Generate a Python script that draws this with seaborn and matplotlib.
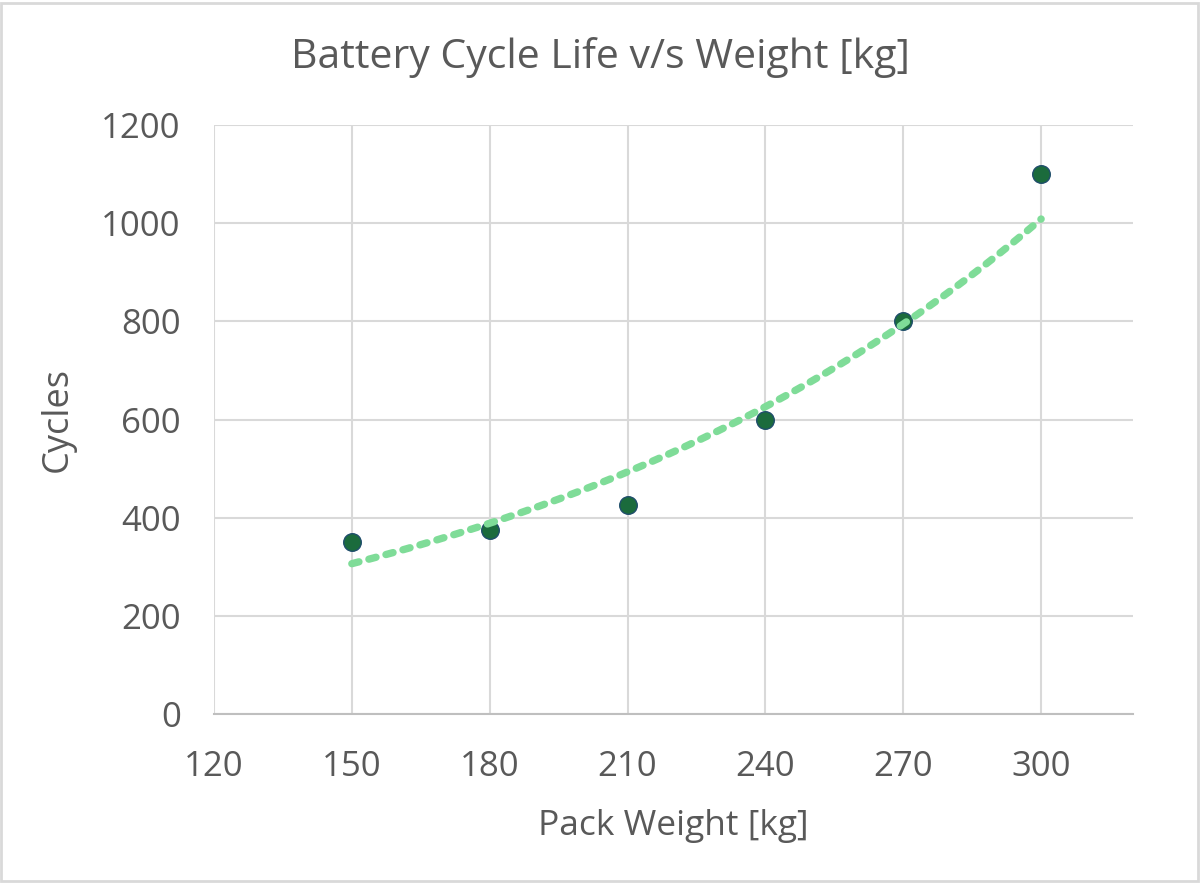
import numpy as np
import pandas as pd
import matplotlib
matplotlib.use("Agg")
import matplotlib.pyplot as plt
import seaborn as sns

# Data
pack_weight = [150, 180, 210, 240, 270, 300]
cycles = [350, 375, 425, 600, 800, 1100]
x_ticks = [120, 150, 180, 210, 240, 270, 300]
y_ticks = [0, 200, 400, 600, 800, 1000, 1200]

sns.set_theme(style="white")
plt.rcParams['font.family'] = ['Open Sans', 'DejaVu Sans']

TEXT = "#595959"
GRID = "#d9d9d9"

df = pd.DataFrame({"w": pack_weight, "c": cycles})

# Exponential trendline (least squares on log values, as Excel does)
b, a = np.polyfit(df["w"], np.log(df["c"]), 1)
xs = np.linspace(min(pack_weight), max(pack_weight), 200)
trend = pd.DataFrame({"w": xs, "c": np.exp(a + b * xs)})

fig = plt.figure(figsize=(12, 8.83), dpi=100)
ax = fig.add_axes([0.1783, 0.1914, 0.9442 - 0.1783, 0.8584 - 0.1914])

ax.set_xlim(120, 320)
ax.set_ylim(0, 1200)
ax.set_xticks(x_ticks)
ax.set_yticks(y_ticks)
ax.grid(True, color=GRID, linewidth=1.5)
ax.set_axisbelow(True)
for s in ["top", "right", "left"]:
    ax.spines[s].set_visible(False)
ax.spines["bottom"].set_color("#bfbfbf")
ax.spines["bottom"].set_linewidth(1.5)

sns.scatterplot(data=df, x="w", y="c", ax=ax, s=160, color="#1b6b3c",
                edgecolor="#1f4e6b", linewidth=1.0, zorder=3)
sns.lineplot(data=trend, x="w", y="c", ax=ax, color="#7fdc98",
             linewidth=5.3, zorder=4)
ln = ax.lines[-1]
ln.set_dashes((1.0, 1.4))
ln.set_dash_capstyle("round")

ax.tick_params(axis="y", length=0, labelsize=25, labelcolor=TEXT, pad=24)
ax.tick_params(axis="x", length=0, labelsize=25, labelcolor=TEXT, pad=26)
ax.set_xlabel("Pack Weight [kg]", fontsize=25.5, color=TEXT, labelpad=18)
ax.set_ylabel("Cycles", fontsize=26, color=TEXT, labelpad=18)
fig.text(0.5, 1 - 68 / 883, "Battery Cycle Life v/s Weight [kg]", fontsize=29.5,
         color=TEXT, ha="center", va="baseline")

# figure border
fig.patches.append(plt.Rectangle((0.001, 0.002), 0.997, 0.995, transform=fig.transFigure,
                                 fill=False, edgecolor="#d9d9d9", linewidth=2))

fig.savefig("out.png", dpi=100)
